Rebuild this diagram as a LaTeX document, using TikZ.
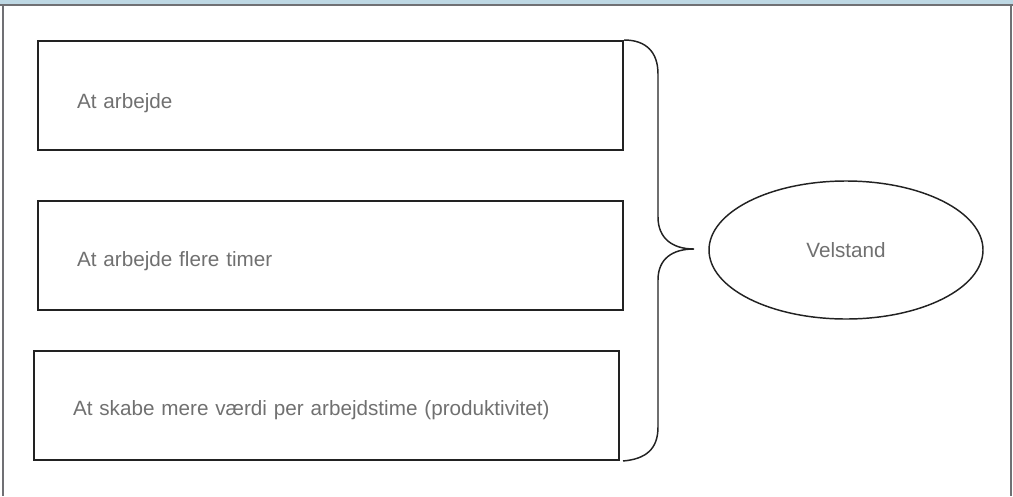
\documentclass[tikz,border=0pt]{standalone}
\usepackage{fontspec}
\setmainfont{Liberation Sans}
\usetikzlibrary{shapes.geometric, positioning}
\definecolor{rammeblaa}{RGB}{190,216,228}
\definecolor{rammegraa}{RGB}{112,112,116}
\definecolor{tekstgraa}{RGB}{112,112,112}
\definecolor{stregsort}{RGB}{34,34,34}
\tikzset{
  boks/.style={draw=stregsort, line width=1.5pt, anchor=north west, minimum width=438.75pt,
    minimum height=81.75pt, text width=380.25pt, inner xsep=29.25pt, align=left,
    text=tekstgraa, font=\fontsize{15.5}{18}\selectfont},
  maal/.style={draw=stregsort, line width=1.1pt, ellipse, minimum width=205.5pt,
    minimum height=103.5pt, inner sep=0pt, text=tekstgraa, font=\fontsize{15.5}{18}\selectfont},
  klamme/.style={draw=stregsort, line width=1.1pt}
}

\begin{document}
\begin{tikzpicture}[x=0.75pt,y=-0.75pt]
        \useasboundingbox (0,0) rectangle (1013,496);
        % ramme
            \fill[rammeblaa] (0,0) rectangle (1013,3.5);
            \draw[rammegraa, line width=1.5pt] (0,4.5) -- (1013,4.5);
            \draw[rammegraa, line width=1.5pt] (3,4.5) -- (3,496);
            \draw[rammegraa, line width=1.5pt] (1011,4.5) -- (1011,496);
        % kasser
            \node[boks] (arbejde) at (37,40) {\rule{0pt}{22pt}At arbejde};
            \node[boks] (timer) at (37,200) {\rule{0pt}{19pt}At arbejde flere timer};
            \node[boks] (vaerdi) at (33,350) {\rule{0pt}{17.5pt}At skabe mere værdi per arbejdstime (produktivitet)};
        % velstand
            \node[maal] (velstand) at (846,250) {Velstand};
        % klamme
            \coordinate (spids) at (694,249);
            \draw[klamme] (arbejde.north east) .. controls (646,40) and (658,52) .. (658,74) -- (658,217)
                .. controls (658,238) and (672,249) .. (spids)
                .. controls (672,249) and (658,259) .. (658,280) -- (658,427)
                .. controls (658,449) and (646,459) .. ([xshift=2.25pt]vaerdi.south east);
        \end{tikzpicture}
\end{document}
